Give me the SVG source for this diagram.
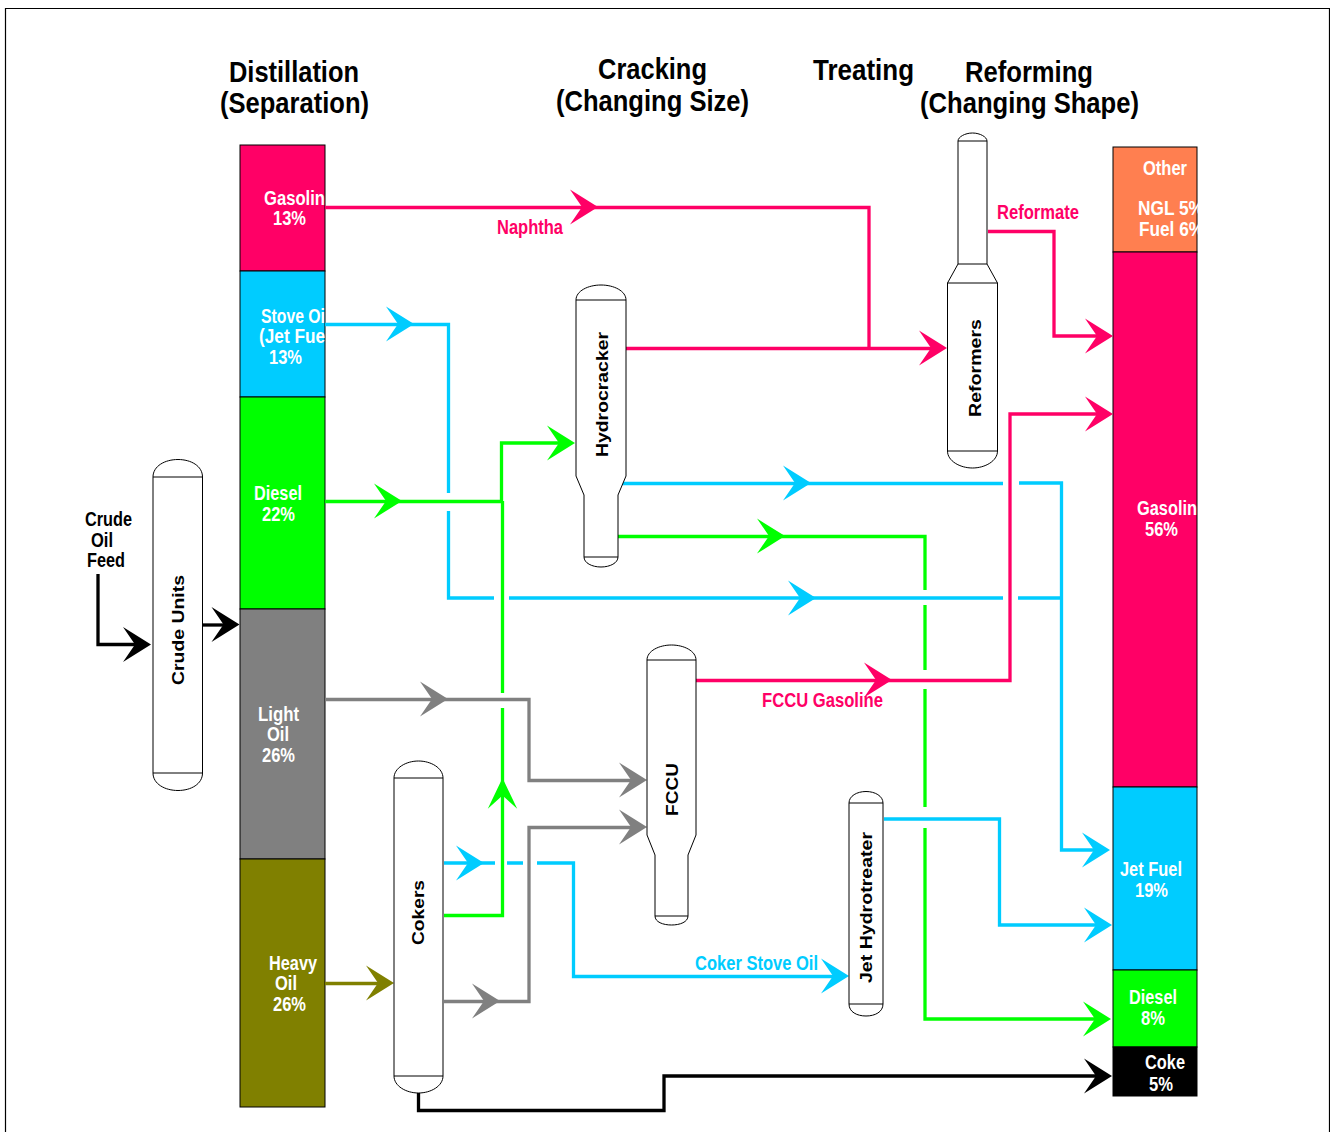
<svg xmlns="http://www.w3.org/2000/svg" xmlns:xlink="http://www.w3.org/1999/xlink" width="1330" height="1132" viewBox="0 0 1330 1132">
<style>
text{font-family:"Liberation Sans",Arial,sans-serif;font-weight:bold}
.t{font-size:30px;fill:#000}
.l{font-size:20px;fill:#fff}
.c{font-size:20px}
.b{font-size:20px;fill:#000}
.v{font-size:17px;fill:#000}
.bar{stroke:#000;stroke-width:1}
.ves{fill:#fff;stroke:#000;stroke-width:1}
.sep{fill:none;stroke:#000;stroke-width:1}
.ln{fill:none;stroke-width:3.300}
.pk{stroke:#FF0066}.cy{stroke:#00CCFF}.gn{stroke:#00FF00}.gy{stroke:#808080}.ol{stroke:#808000}.bk{stroke:#000}
.fpk{fill:#FF0066}.fcy{fill:#00CCFF}.fgn{fill:#00FF00}.fgy{fill:#808080}.fol{fill:#808000}.fbk{fill:#000}
</style>
<defs>
<path id="ah" d="M0 0L-28 -17.500L-16 0L-28 17.500Z"/>
<clipPath id="cl"><rect x="240" y="145" width="85" height="252"/></clipPath>
<clipPath id="cr"><rect x="1113" y="147" width="85" height="105"/></clipPath>
</defs>
<path d="M5.500 1132V8.500H1329.500V1132" fill="none" stroke="#000" stroke-width="1.200"/>
<g id="titles">
<text class="t" x="229" y="82" textLength="130" lengthAdjust="spacingAndGlyphs">Distillation</text>
<text class="t" x="220" y="113" textLength="149" lengthAdjust="spacingAndGlyphs">(Separation)</text>
<text class="t" x="598" y="79" textLength="109" lengthAdjust="spacingAndGlyphs">Cracking</text>
<text class="t" x="556" y="111" textLength="193" lengthAdjust="spacingAndGlyphs">(Changing Size)</text>
<text class="t" x="813" y="80" textLength="101" lengthAdjust="spacingAndGlyphs">Treating</text>
<text class="t" x="965" y="82" textLength="128" lengthAdjust="spacingAndGlyphs">Reforming</text>
<text class="t" x="920" y="113" textLength="219" lengthAdjust="spacingAndGlyphs">(Changing Shape)</text>
</g>
<g id="distillation-bar">
<rect class="bar fpk" x="240" y="145" width="85" height="126"/>
<rect class="bar fcy" x="240" y="271" width="85" height="126"/>
<rect class="bar fgn" x="240" y="397" width="85" height="212"/>
<rect class="bar fgy" x="240" y="609" width="85" height="250"/>
<rect class="bar fol" x="240" y="859" width="85" height="248"/>
<g clip-path="url(#cl)">
<text class="l" x="264" y="205" textLength="61" lengthAdjust="spacingAndGlyphs">Gasolin</text>
<text class="l" x="261" y="323" textLength="64" lengthAdjust="spacingAndGlyphs">Stove Oi</text>
<text class="l" x="259" y="343" textLength="66" lengthAdjust="spacingAndGlyphs">(Jet Fue</text>
</g>
<text class="l" x="273" y="225" textLength="33" lengthAdjust="spacingAndGlyphs">13%</text>
<text class="l" x="269" y="364" textLength="33" lengthAdjust="spacingAndGlyphs">13%</text>
<text class="l" x="254" y="500" textLength="48" lengthAdjust="spacingAndGlyphs">Diesel</text>
<text class="l" x="262" y="521" textLength="33" lengthAdjust="spacingAndGlyphs">22%</text>
<text class="l" x="258" y="721" textLength="41" lengthAdjust="spacingAndGlyphs">Light</text>
<text class="l" x="267" y="741" textLength="22" lengthAdjust="spacingAndGlyphs">Oil</text>
<text class="l" x="262" y="762" textLength="33" lengthAdjust="spacingAndGlyphs">26%</text>
<text class="l" x="269" y="970" textLength="48" lengthAdjust="spacingAndGlyphs">Heavy</text>
<text class="l" x="275" y="990" textLength="22" lengthAdjust="spacingAndGlyphs">Oil</text>
<text class="l" x="273" y="1011" textLength="33" lengthAdjust="spacingAndGlyphs">26%</text>
</g>
<g id="product-bar">
<rect class="bar" fill="#FF7F50" x="1113" y="147" width="84" height="105"/>
<rect class="bar fpk" x="1113" y="252" width="84" height="535"/>
<rect class="bar fcy" x="1113" y="787" width="84" height="183"/>
<rect class="bar fgn" x="1113" y="970" width="84" height="77"/>
<rect class="bar fbk" x="1113" y="1047" width="84" height="49"/>
<text class="l" x="1143" y="175" textLength="44" lengthAdjust="spacingAndGlyphs">Other</text>
<g clip-path="url(#cr)">
<text class="l" x="1138" y="215" textLength="66" lengthAdjust="spacingAndGlyphs">NGL 5%</text>
<text class="l" x="1139" y="236" textLength="65" lengthAdjust="spacingAndGlyphs">Fuel 6%</text>
</g>
<text class="l" x="1137" y="515" textLength="60" lengthAdjust="spacingAndGlyphs">Gasolin</text>
<text class="l" x="1145" y="536" textLength="33" lengthAdjust="spacingAndGlyphs">56%</text>
<text class="l" x="1120" y="876" textLength="62" lengthAdjust="spacingAndGlyphs">Jet Fuel</text>
<text class="l" x="1135" y="897" textLength="33" lengthAdjust="spacingAndGlyphs">19%</text>
<text class="l" x="1129" y="1004" textLength="48" lengthAdjust="spacingAndGlyphs">Diesel</text>
<text class="l" x="1141" y="1025" textLength="24" lengthAdjust="spacingAndGlyphs">8%</text>
<text class="l" x="1145" y="1069" textLength="40" lengthAdjust="spacingAndGlyphs">Coke</text>
<text class="l" x="1149" y="1091" textLength="24" lengthAdjust="spacingAndGlyphs">5%</text>
</g>
<g id="connectors">
<path class="ln pk" d="M325 207.500H869V348"/>
<path class="ln pk" d="M626 348.500H935"/>
<path class="ln pk" d="M988 231.500H1054V336H1100"/>
<path class="ln pk" d="M696 680.500H1010V414H1100"/>
<path class="ln cy" d="M325 324.500H448.500V493M448.500 511V598H494M509 598H1003M1018 598H1061"/>
<path class="ln cy" d="M622 483.500H1003M1019 483H1061.500V850H1098"/>
<path class="ln gn" d="M325 501.500H501.500V443H563"/>
<path class="ln gn" d="M444 915.500H502.500V708M502.500 693V501"/>
<path class="ln gn" d="M618 536.500H925V590M925 605V670M925 689V807M925 828V1019H1099"/>
<path class="ln gy" d="M325 699.500H529V780.500H635"/>
<path class="ln gy" d="M444 1001.500H529V827.500H635"/>
<path class="ln ol" d="M325 983.500H382"/>
<path class="ln cy" d="M444 863H495M507 863H523M537 863H573.500V976.500H838"/>
<path class="ln cy" d="M884 819H999.500V925H1100"/>
<path class="ln bk" d="M418.500 1093V1110.500H664V1076H1100"/>
<path class="ln bk" d="M98 574V644.500H140"/>
<path class="ln bk" d="M203 625H228"/>
<use href="#ah" x="598" y="207" class="fpk"/>
<use href="#ah" x="947" y="348" class="fpk"/>
<use href="#ah" x="1113" y="336" class="fpk"/>
<use href="#ah" x="1113" y="414" class="fpk"/>
<use href="#ah" x="892" y="680" class="fpk"/>
<use href="#ah" x="414" y="324" class="fcy"/>
<use href="#ah" x="811" y="483" class="fcy"/>
<use href="#ah" x="816" y="598" class="fcy"/>
<use href="#ah" x="1110" y="850" class="fcy"/>
<use href="#ah" x="1112" y="925" class="fcy"/>
<use href="#ah" x="484" y="863" class="fcy"/>
<use href="#ah" x="849" y="976" class="fcy"/>
<use href="#ah" x="402" y="501" class="fgn"/>
<use href="#ah" x="575" y="443" class="fgn"/>
<use href="#ah" x="785" y="536" class="fgn"/>
<use href="#ah" x="1111" y="1019" class="fgn"/>
<use href="#ah" transform="translate(502.500 778) rotate(-90) scale(1.100 .84)" class="fgn"/>
<use href="#ah" x="448" y="699" class="fgy"/>
<use href="#ah" x="647" y="780" class="fgy"/>
<use href="#ah" x="647" y="827" class="fgy"/>
<use href="#ah" x="500" y="1001" class="fgy"/>
<use href="#ah" x="394" y="983" class="fol"/>
<use href="#ah" x="1112" y="1076" class="fbk"/>
<use href="#ah" x="151" y="644.500" class="fbk"/>
<use href="#ah" x="239.500" y="624.500" class="fbk"/>
</g>
<g id="connector-labels">
<text class="c fpk" x="497" y="234" textLength="66" lengthAdjust="spacingAndGlyphs">Naphtha</text>
<text class="c fpk" x="997" y="219" textLength="82" lengthAdjust="spacingAndGlyphs">Reformate</text>
<text class="c fpk" x="762" y="707" textLength="121" lengthAdjust="spacingAndGlyphs">FCCU Gasoline</text>
<text class="c fcy" x="695" y="970" textLength="123" lengthAdjust="spacingAndGlyphs">Coker Stove Oil</text>
<text class="b" x="85" y="526" textLength="47" lengthAdjust="spacingAndGlyphs">Crude</text>
<text class="b" x="91" y="547" textLength="22" lengthAdjust="spacingAndGlyphs">Oil</text>
<text class="b" x="87" y="567" textLength="38" lengthAdjust="spacingAndGlyphs">Feed</text>
</g>
<g id="crude-units">
<path class="ves" d="M153 477C153 466 165 459.500 178 459.500C191 459.500 202.500 466 202.500 477V773C202.500 784 191 790.500 178 790.500C165 790.500 153 784 153 773Z"/>
<path class="sep" d="M153 477H202.500M153 773H202.500"/>
<text class="v" transform="translate(183.500 685) rotate(-90)" textLength="110" lengthAdjust="spacingAndGlyphs">Crude Units</text>
</g>
<g id="cokers">
<path class="ves" d="M394 778C394 768 406 761 418.500 761C431 761 443 768 443 778V1076C443 1086 431 1093 418.500 1093C406 1093 394 1086 394 1076Z"/>
<path class="sep" d="M394 778H443M394 1076H443"/>
<text class="v" transform="translate(424 945) rotate(-90)" textLength="65" lengthAdjust="spacingAndGlyphs">Cokers</text>
</g>
<g id="hydrocracker">
<path class="ves" d="M576 300C576 291 588 285 601 285C614 285 626 291 626 300V476L618 495V557C618 563 610 567 601 567C592 567 584 563 584 557V495L576 476Z"/>
<path class="sep" d="M576 300H626M584 557H618"/>
<text class="v" transform="translate(607.500 457) rotate(-90)" textLength="125" lengthAdjust="spacingAndGlyphs">Hydrocracker</text>
</g>
<g id="fccu">
<path class="ves" d="M647 660C647 651 659 645 671.500 645C684 645 696 651 696 660V835L688 855V916C688 922 680 925 671.500 925C663 925 655 922 655 916V855L647 835Z"/>
<path class="sep" d="M647 660H696M655 916H688"/>
<text class="v" transform="translate(678 816) rotate(-90)" textLength="53" lengthAdjust="spacingAndGlyphs">FCCU</text>
</g>
<g id="jet-hydrotreater">
<path class="ves" d="M849 803C849 796 857 791.500 866 791.500C875 791.500 883 796 883 803V1004C883 1012 875 1016 866 1016C857 1016 849 1012 849 1004Z"/>
<path class="sep" d="M849 803H883M849 1004H883"/>
<text class="v" transform="translate(872 983) rotate(-90)" textLength="151" lengthAdjust="spacingAndGlyphs">Jet Hydrotreater</text>
</g>
<g id="reformers">
<path class="ves" d="M958 141C958 137 965 133 972.500 133C980 133 987 137 987 141V264L997.500 283V451C997.500 461 985 468 972.500 468C960 468 947.500 461 947.500 451V283L958 264Z"/>
<path class="sep" d="M958 141H987M958 264H987M947.500 283H997.500M947.500 451H997.500"/>
<text class="v" transform="translate(981 417) rotate(-90)" textLength="98" lengthAdjust="spacingAndGlyphs">Reformers</text>
</g>
</svg>
